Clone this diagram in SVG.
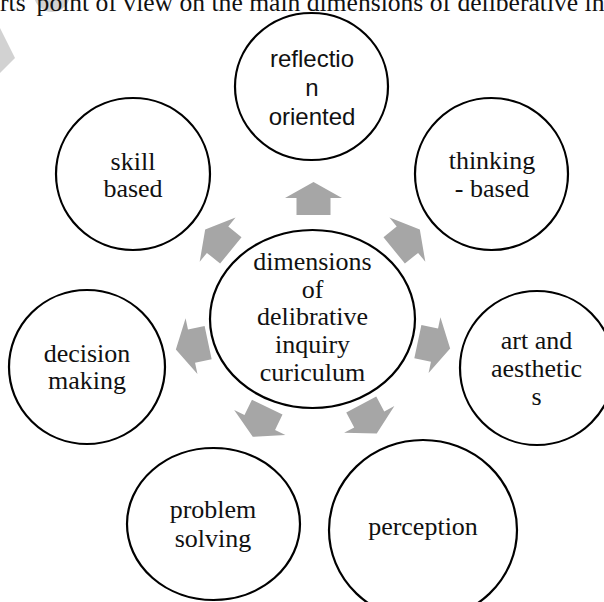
<svg xmlns="http://www.w3.org/2000/svg" width="604" height="602" viewBox="0 0 604 602">
  <style>
    .node { fill: #ffffff; stroke: #000000; stroke-width: 2.2; }
    .t { font-family: "Liberation Serif", "Times New Roman", serif; font-size: 26px; fill: #111111; text-anchor: middle; }
    .ts { font-family: "Liberation Sans", Arial, sans-serif; font-size: 24px; fill: #111111; text-anchor: middle; }
    .arrow { fill: #a6a6a6; }
    .wm { fill: #d2d2d2; }
  </style>
  <defs>
    <path id="arr" d="M0,-16.5 L28.5,-0.5 L17,-0.5 L17,16.5 L-17,16.5 L-17,-0.5 L-28.5,-0.5 Z"/>
  </defs>
  <rect width="604" height="602" fill="#ffffff"/>

  <!-- watermark fragments -->
  <g id="watermark">
    <circle class="wm" cx="52" cy="-6" r="18"/>
    <polygon class="wm" points="0,28 15,58 0,73"/>
  </g>

  <!-- header text (cut off) -->
  <text x="0" y="11" font-family="Liberation Serif, 'Times New Roman', serif" font-size="25.6" fill="#111111">rts' point of view on the main dimensions of deliberative in</text>

  <!-- connectors -->
  <g id="connectors">
    <use href="#arr" class="arrow" transform="translate(313.5,198.5)"/>
    <use href="#arr" class="arrow" transform="translate(407,240) rotate(51)"/>
    <use href="#arr" class="arrow" transform="translate(434,345) rotate(102)"/>
    <use href="#arr" class="arrow" transform="translate(369,419) rotate(152)"/>
    <use href="#arr" class="arrow" transform="translate(260,422) rotate(206)"/>
    <use href="#arr" class="arrow" transform="translate(192,346) rotate(258)"/>
    <use href="#arr" class="arrow" transform="translate(218,240) rotate(-51)"/>
  </g>

  <g id="center">
    <ellipse class="node" cx="312.5" cy="319" rx="102.5" ry="89"/>
    <text class="t" x="312.5" y="270">dimensions</text>
    <text class="t" x="312.5" y="297.5">of</text>
    <text class="t" x="312.5" y="325">delibrative</text>
    <text class="t" x="312.5" y="353">inquiry</text>
    <text class="t" x="312.5" y="381">curiculum</text>
  </g>

  <g id="reflection">
    <ellipse class="node" cx="311.5" cy="86.5" rx="76.5" ry="73.5"/>
    <text class="ts" x="312" y="67">reflectio</text>
    <text class="ts" x="312" y="96">n</text>
    <text class="ts" x="312" y="125">oriented</text>
  </g>

  <g id="thinking">
    <ellipse class="node" cx="491.5" cy="174" rx="76.5" ry="76"/>
    <text class="t" x="492" y="169">thinking</text>
    <text class="t" x="492" y="197">- based</text>
  </g>

  <g id="art">
    <ellipse class="node" cx="537" cy="368" rx="77" ry="77"/>
    <text class="t" x="536.5" y="349">art and</text>
    <text class="t" x="536.5" y="377">aesthetic</text>
    <text class="t" x="536.5" y="405">s</text>
  </g>

  <g id="perception">
    <ellipse class="node" cx="423" cy="530" rx="94" ry="90"/>
    <text class="t" x="423" y="535">perception</text>
  </g>

  <g id="problem">
    <ellipse class="node" cx="213.5" cy="524" rx="86.5" ry="76"/>
    <text class="t" x="213" y="518">problem</text>
    <text class="t" x="213" y="547">solving</text>
  </g>

  <g id="decision">
    <ellipse class="node" cx="87" cy="367" rx="78" ry="77"/>
    <text class="t" x="87" y="362">decision</text>
    <text class="t" x="87" y="389">making</text>
  </g>

  <g id="skill">
    <ellipse class="node" cx="133" cy="174" rx="77" ry="76"/>
    <text class="t" x="133" y="170">skill</text>
    <text class="t" x="133" y="197">based</text>
  </g>
</svg>
